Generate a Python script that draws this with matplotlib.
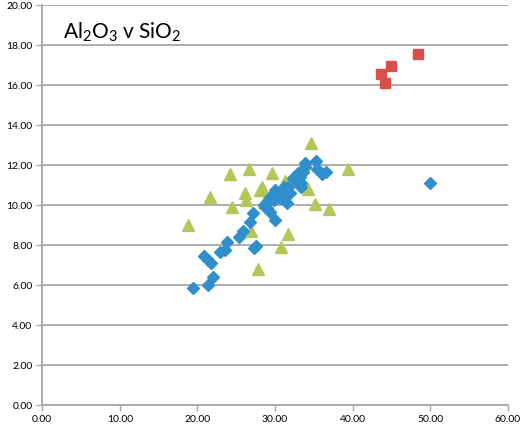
import matplotlib
matplotlib.use('Agg')
import matplotlib.pyplot as plt
from matplotlib.ticker import MultipleLocator, FormatStrFormatter

plt.rcParams['font.family'] = ['Lato', 'DejaVu Sans']
plt.rcParams['mathtext.default'] = 'regular'

BLUE = '#2F8FCC'
GREEN = '#B4C85A'
RED = '#DA4F4A'
GRID = '#A6A6A6'

# diamonds (blue series)
blue_x = [19.4, 21.3, 22.0, 20.9, 21.3, 21.8, 22.9, 23.5, 23.8, 25.3,
          25.9, 26.8, 27.2, 27.5, 27.3, 30.0, 28.7, 29.3, 29.1, 29.8,
          30.6, 31.5, 30.0, 30.4, 31.3, 31.9, 31.1, 32.3, 32.8, 33.2,
          33.4, 33.4, 33.6, 33.8, 33.8, 33.0, 35.3, 35.4, 36.0, 36.6,
          28.6, 29.0, 29.4, 31.7, 32.9, 50.0]
blue_y = [5.83, 6.00, 6.42, 7.45, 7.25, 7.12, 7.67, 7.75, 8.17, 8.38,
          8.72, 9.17, 9.62, 7.95, 7.85, 9.25, 9.92, 9.67, 10.17, 10.25,
          10.33, 10.08, 10.75, 10.50, 10.67, 10.58, 10.92, 11.33, 11.25, 11.42,
          11.08, 10.92, 11.67, 11.92, 12.08, 11.58, 12.22, 11.78, 11.53, 11.63,
          10.00, 9.85, 10.40, 10.90, 11.10, 11.12]

# triangles (green series)
green_x = [34.6, 26.6, 24.2, 29.6, 39.4, 28.3, 28.1, 31.3, 21.6, 26.1,
           26.3, 24.5, 34.3, 35.2, 37.0, 18.8, 26.9, 31.6, 30.8, 27.8,
           28.6]
green_y = [13.08, 11.78, 11.55, 11.58, 11.78, 10.92, 10.75, 11.18, 10.42, 10.62,
           10.25, 9.92, 10.78, 10.05, 9.78, 9.00, 8.72, 8.53, 7.88, 6.78,
           10.13]

# squares (red series)
red_x = [48.4, 44.9, 43.6, 44.1]
red_y = [17.55, 16.95, 16.55, 16.10]

fig = plt.figure(figsize=(5.2, 4.28), dpi=100, facecolor='white')
ax = fig.add_axes([0.081, 0.0537, 0.896, 0.9346])

ax.plot(green_x, green_y, linestyle='none', marker='^', ms=8.0,
        color=GREEN, mec=GREEN, zorder=3)
ax.plot(blue_x, blue_y, linestyle='none', marker='D', ms=5.8,
        color=BLUE, mec=BLUE, zorder=4)
ax.plot(red_x, red_y, linestyle='none', marker='s', ms=6.5,
        color=RED, mec=RED, zorder=4)

ax.set_xlim(0, 60)
ax.set_ylim(0, 20)
ax.xaxis.set_major_locator(MultipleLocator(10))
ax.yaxis.set_major_locator(MultipleLocator(2))
ax.xaxis.set_major_formatter(FormatStrFormatter('%.2f'))
ax.yaxis.set_major_formatter(FormatStrFormatter('%.2f'))
ax.yaxis.grid(True, color=GRID, lw=1.3)
ax.set_axisbelow(True)
for s in ['top', 'right']:
    ax.spines[s].set_visible(False)
for s in ['left', 'bottom']:
    ax.spines[s].set_color(GRID)
    ax.spines[s].set_linewidth(1.3)
ax.tick_params(axis='both', colors=GRID, length=4, width=1, labelsize=7.5,
               labelcolor='black', direction='out', pad=3)

ax.text(0.045, 0.96, r'Al$_2$O$_3$ v SiO$_2$', transform=ax.transAxes,
        fontsize=15, va='top', ha='left', color='black')

fig.savefig('out.png', dpi=100, facecolor='white')
